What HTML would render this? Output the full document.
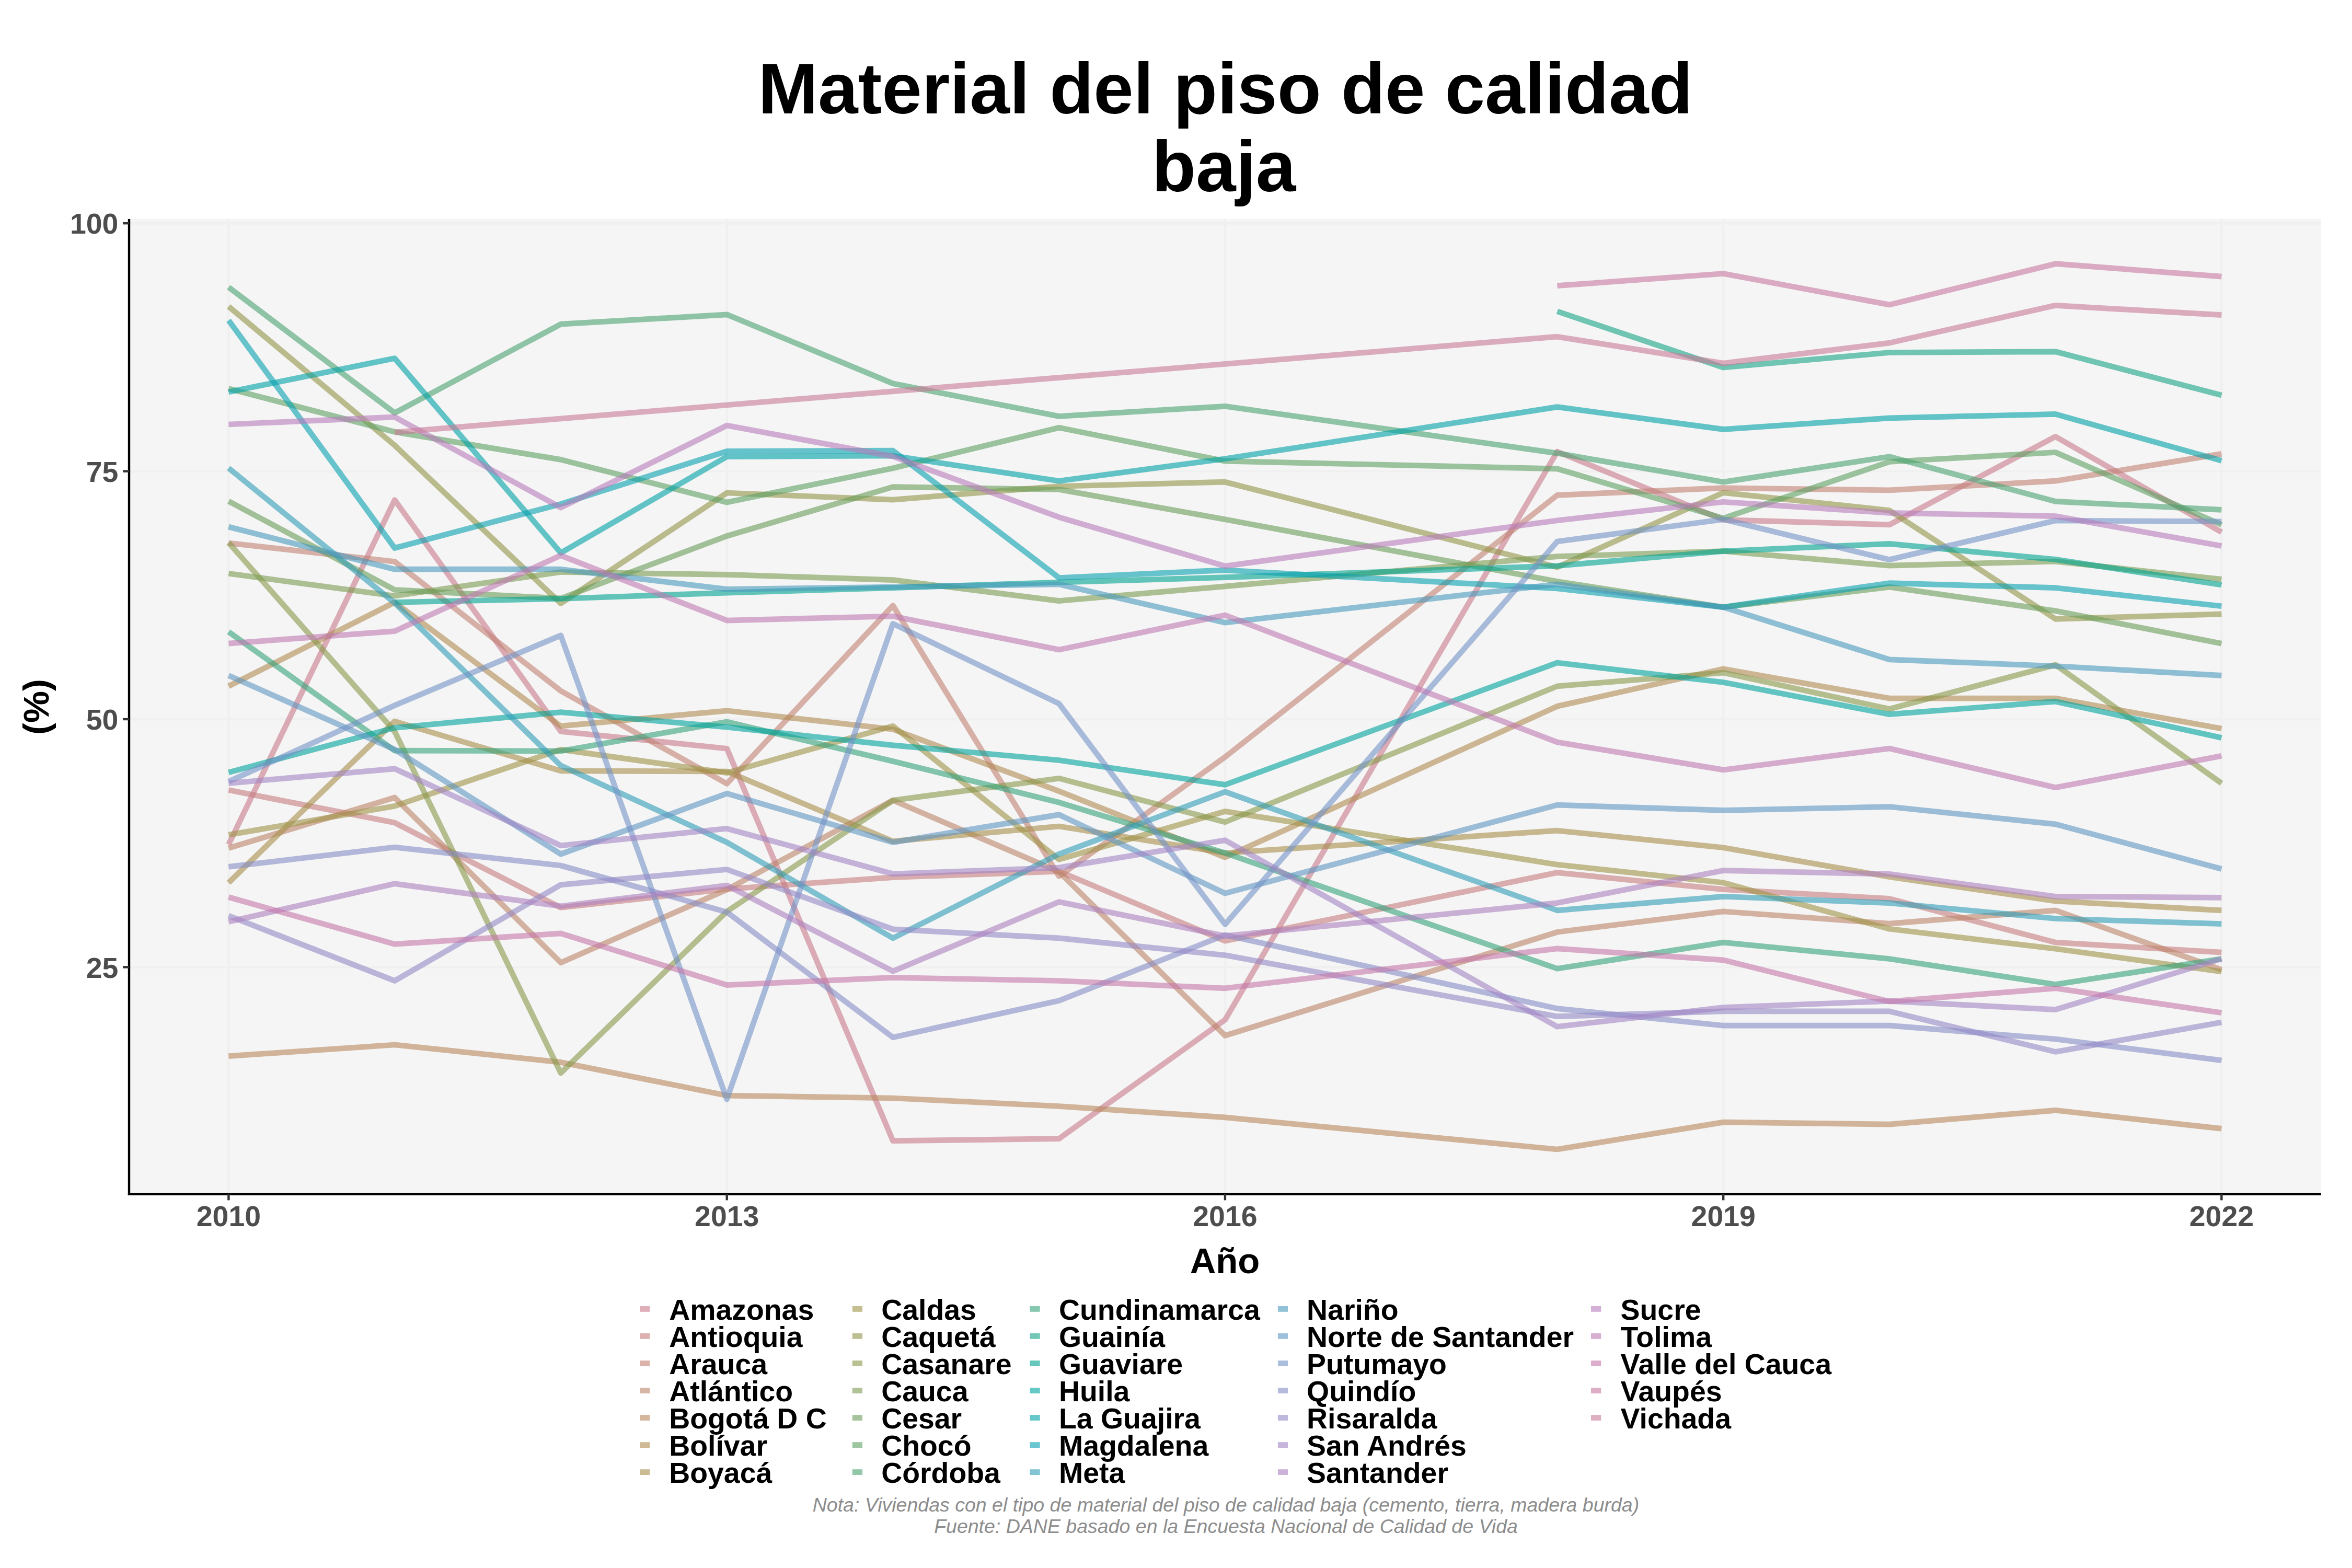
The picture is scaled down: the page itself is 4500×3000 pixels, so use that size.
<!DOCTYPE html><html><head><meta charset="utf-8"><title>Material del piso de calidad baja</title>
<style>html,body{margin:0;padding:0;background:#fff}svg{display:block}text{font-family:"Liberation Sans",sans-serif}</style></head><body>
<svg width="4500" height="3000" viewBox="0 0 4500 3000">
<rect width="4500" height="3000" fill="#fff"/>
<rect x="247" y="418.9" width="4193.8" height="1866.1" fill="#F5F5F5"/>
<line x1="247" x2="4440.8" y1="427.2" y2="427.2" stroke="#F0F0F0" stroke-width="4.6"/>
<line x1="247" x2="4440.8" y1="901.6" y2="901.6" stroke="#F0F0F0" stroke-width="4.6"/>
<line x1="247" x2="4440.8" y1="1376.0" y2="1376.0" stroke="#F0F0F0" stroke-width="4.6"/>
<line x1="247" x2="4440.8" y1="1850.4" y2="1850.4" stroke="#F0F0F0" stroke-width="4.6"/>
<line x1="437.4" x2="437.4" y1="418.9" y2="2285" stroke="#F0F0F0" stroke-width="4.6"/>
<line x1="1390.7" x2="1390.7" y1="418.9" y2="2285" stroke="#F0F0F0" stroke-width="4.6"/>
<line x1="2343.9" x2="2343.9" y1="418.9" y2="2285" stroke="#F0F0F0" stroke-width="4.6"/>
<line x1="3297.2" x2="3297.2" y1="418.9" y2="2285" stroke="#F0F0F0" stroke-width="4.6"/>
<line x1="4250.4" x2="4250.4" y1="418.9" y2="2285" stroke="#F0F0F0" stroke-width="4.6"/>
<g fill="none" stroke-width="10.7" stroke-opacity="0.6" stroke-linejoin="round" stroke-linecap="butt">
<polyline stroke="#C87A8A" points="437.4,1615.7 755.1,956.5 1072.9,1399.4 1390.7,1432.2 1708.4,2182.7 2026.2,2178.6 2343.9,1951.2 2979.4,864.1 3297.2,994.5 3614.9,1003.9 3932.7,835.3 4250.4,1018.2"/>
<polyline stroke="#C67D7F" points="437.4,1511.6 755.1,1574.1 1072.9,1736.5 1390.7,1701.0 1708.4,1678.6 2026.2,1667.1 2343.9,1800.2 2979.4,1669.6 3297.2,1701.6 3614.9,1719.4 3932.7,1803.1 4250.4,1822.2"/>
<polyline stroke="#C28073" points="437.4,1039.0 755.1,1074.5 1072.9,1321.8 1390.7,1499.4 1708.4,1158.6 2026.2,1676.5 2343.9,1448.4 2979.4,947.4 3297.2,933.7 3614.9,937.8 3932.7,920.2 4250.4,868.4"/>
<polyline stroke="#BD8367" points="437.4,1622.7 755.1,1525.9 1072.9,1841.8 1390.7,1702.0 1708.4,1531.2 2026.2,1668.0 2343.9,1981.4 2979.4,1783.3 3297.2,1743.9 3614.9,1767.1 3932.7,1741.8 4250.4,1855.3"/>
<polyline stroke="#B7875C" points="437.4,2020.6 755.1,1999.0 1072.9,2032.4 1390.7,2096.1 1708.4,2101.0 2026.2,2116.5 2343.9,2137.8 2979.4,2199.0 3297.2,2147.1 3614.9,2151.2 3932.7,2124.3 4250.4,2159.4"/>
<polyline stroke="#B08A52" points="437.4,1312.9 755.1,1152.4 1072.9,1389.2 1390.7,1359.8 1708.4,1395.3 2026.2,1513.7 2343.9,1640.2 2979.4,1351.3 3297.2,1279.8 3614.9,1336.1 3932.7,1336.1 4250.4,1394.1"/>
<polyline stroke="#A78E4B" points="437.4,1688.8 755.1,1380.2 1072.9,1474.9 1390.7,1476.0 1708.4,1609.6 2026.2,1581.0 2343.9,1632.0 2979.4,1589.2 3297.2,1621.8 3614.9,1677.8 3932.7,1723.9 4250.4,1741.8"/>
<polyline stroke="#9E9246" points="437.4,1597.3 755.1,1542.2 1072.9,1434.1 1390.7,1478.6 1708.4,1389.2 2026.2,1644.3 2343.9,1552.4 2979.4,1654.2 3297.2,1688.8 3614.9,1777.3 3932.7,1815.3 4250.4,1859.0"/>
<polyline stroke="#939546" points="437.4,586.3 755.1,852.0 1072.9,1154.5 1390.7,943.0 1708.4,956.1 2026.2,930.4 2343.9,922.2 2979.4,1085.1 3297.2,942.7 3614.9,976.5 3932.7,1184.3 4250.4,1174.9"/>
<polyline stroke="#879849" points="437.4,1038.2 755.1,1399.4 1072.9,2053.0 1390.7,1743.9 1708.4,1531.2 2026.2,1489.2 2343.9,1572.9 2979.4,1312.9 3297.2,1287.1 3614.9,1356.5 3932.7,1272.0 4250.4,1498.6"/>
<polyline stroke="#7A9B50" points="437.4,1097.3 755.1,1140.2 1072.9,1094.5 1390.7,1099.4 1708.4,1109.6 2026.2,1149.6 2343.9,1121.8 2979.4,1064.7 3297.2,1054.5 3614.9,1082.2 3932.7,1074.1 4250.4,1108.4"/>
<polyline stroke="#6B9D59" points="437.4,959.0 755.1,1128.5 1072.9,1144.9 1390.7,1025.5 1708.4,931.6 2026.2,936.5 2343.9,993.7 2979.4,1112.6 3297.2,1161.7 3614.9,1123.1 3932.7,1168.8 4250.4,1231.2"/>
<polyline stroke="#5BA063" points="437.4,743.5 755.1,826.3 1072.9,879.4 1390.7,961.0 1708.4,895.7 2026.2,818.2 2343.9,882.2 2979.4,896.9 3297.2,991.6 3614.9,883.5 3932.7,865.5 4250.4,1003.9"/>
<polyline stroke="#49A16F" points="437.4,549.6 755.1,790.0 1072.9,620.2 1390.7,601.8 1708.4,733.7 2026.2,796.5 2343.9,777.3 2979.4,867.1 3297.2,922.2 3614.9,873.7 3932.7,959.4 4250.4,975.3"/>
<polyline stroke="#34A27A" points="437.4,1208.8 755.1,1436.1 1072.9,1436.9 1390.7,1381.0 1708.4,1456.5 2026.2,1535.3 2343.9,1632.0 2979.4,1853.3 3297.2,1803.1 3614.9,1834.5 3932.7,1883.5 4250.4,1834.5"/>
<polyline stroke="#16A386" points="2979.4,595.7 3297.2,703.1 3614.9,674.5 3932.7,672.8 4250.4,756.1"/>
<polyline stroke="#00A391" points="755.1,1152.4 1072.9,1145.5 1390.7,1134.1 1708.4,1124.7 2026.2,1114.0 2343.9,1104.7 2979.4,1082.6 3297.2,1054.5 3614.9,1040.4 3932.7,1070.4 4250.4,1119.0"/>
<polyline stroke="#00A39C" points="437.4,1477.8 755.1,1392.4 1072.9,1362.7 1390.7,1391.2 1708.4,1425.9 2026.2,1454.5 2343.9,1501.4 2979.4,1268.0 3297.2,1305.5 3614.9,1366.7 3932.7,1342.2 4250.4,1411.6"/>
<polyline stroke="#00A1A6" points="437.4,750.0 755.1,685.5 1072.9,1057.8 1390.7,873.7 1708.4,872.0 2026.2,920.2 2343.9,877.7 2979.4,778.6 3297.2,821.4 3614.9,799.8 3932.7,792.4 4250.4,881.4"/>
<polyline stroke="#07A0AF" points="437.4,612.9 755.1,1048.5 1072.9,964.3 1390.7,863.3 1708.4,862.2 2026.2,1105.5 2343.9,1090.8 2979.4,1125.9 3297.2,1161.7 3614.9,1115.7 3932.7,1124.7 4250.4,1159.8"/>
<polyline stroke="#309DB7" points="437.4,895.7 755.1,1153.5 1072.9,1464.7 1390.7,1611.6 1708.4,1794.9 2026.2,1634.1 2343.9,1514.9 2979.4,1741.8 3297.2,1715.3 3614.9,1727.6 3932.7,1757.5 4250.4,1767.6"/>
<polyline stroke="#499ABD" points="437.4,1008.0 755.1,1089.2 1072.9,1089.2 1390.7,1127.4 1708.4,1123.0 2026.2,1117.8 2343.9,1191.2 2979.4,1117.8 3297.2,1161.7 3614.9,1261.8 3932.7,1274.5 4250.4,1292.4"/>
<polyline stroke="#5F96C2" points="437.4,1292.4 755.1,1434.0 1072.9,1634.1 1390.7,1518.2 1708.4,1611.6 2026.2,1558.6 2343.9,1709.2 2979.4,1540.2 3297.2,1550.4 3614.9,1543.5 3932.7,1576.9 4250.4,1662.5"/>
<polyline stroke="#7392C6" points="437.4,1495.3 755.1,1349.6 1072.9,1215.7 1390.7,2103.1 1708.4,1193.3 2026.2,1346.3 2343.9,1768.4 2979.4,1036.0 3297.2,993.7 3614.9,1070.8 3932.7,996.0 4250.4,997.8"/>
<polyline stroke="#858DC7" points="437.4,1658.4 755.1,1621.0 1072.9,1656.0 1390.7,1745.1 1708.4,1984.7 2026.2,1914.5 2343.9,1788.8 2979.4,1929.6 3297.2,1962.2 3614.9,1962.2 3932.7,1988.0 4250.4,2028.8"/>
<polyline stroke="#9588C7" points="437.4,1752.0 755.1,1876.5 1072.9,1692.9 1390.7,1663.5 1708.4,1777.8 2026.2,1794.9 2343.9,1827.6 2979.4,1944.7 3297.2,1934.9 3614.9,1934.9 3932.7,2012.4 4250.4,1956.1"/>
<polyline stroke="#A284C4" points="437.4,1498.6 755.1,1470.8 1072.9,1617.8 1390.7,1585.3 1708.4,1672.0 2026.2,1660.0 2343.9,1607.6 2979.4,1964.3 3297.2,1927.6 3614.9,1915.3 3932.7,1931.6 4250.4,1834.5"/>
<polyline stroke="#AE80C0" points="437.4,1763.5 755.1,1690.8 1072.9,1733.7 1390.7,1694.1 1708.4,1858.2 2026.2,1725.5 2343.9,1790.8 2979.4,1727.6 3297.2,1665.5 3614.9,1672.4 3932.7,1715.3 4250.4,1717.3"/>
<polyline stroke="#B77CBA" points="437.4,812.0 755.1,797.8 1072.9,971.2 1390.7,814.1 1708.4,873.3 2026.2,989.6 2343.9,1083.1 2979.4,995.7 3297.2,960.2 3614.9,981.4 3932.7,987.6 4250.4,1044.5"/>
<polyline stroke="#BF7AB3" points="437.4,1231.2 755.1,1207.6 1072.9,1062.7 1390.7,1187.1 1708.4,1179.0 2026.2,1243.1 2343.9,1176.9 2979.4,1420.0 3297.2,1472.9 3614.9,1432.0 3932.7,1506.7 4250.4,1446.3"/>
<polyline stroke="#C478AA" points="437.4,1716.5 755.1,1806.3 1072.9,1785.9 1390.7,1884.7 1708.4,1870.4 2026.2,1876.5 2343.9,1890.8 2979.4,1814.9 3297.2,1836.9 3614.9,1916.1 3932.7,1890.8 4250.4,1937.8"/>
<polyline stroke="#C778A0" points="2979.4,546.7 3297.2,523.5 3614.9,583.1 3932.7,504.7 4250.4,529.2"/>
<polyline stroke="#C87996" points="755.1,827.1 2979.4,644.2 3297.2,695.1 3614.9,656.1 3932.7,584.3 4250.4,602.7"/>
</g>
<line x1="247" x2="247" y1="418.9" y2="2287.1" stroke="#000" stroke-width="4.4"/>
<line x1="244.8" x2="4440.8" y1="2284.9" y2="2284.9" stroke="#000" stroke-width="4.4"/>
<line x1="235.1" x2="247" y1="427.2" y2="427.2" stroke="#333333" stroke-width="4.4"/>
<text x="226.3" y="447.4" text-anchor="end" font-size="55.4" font-weight="bold" fill="#4D4D4D">100</text>
<line x1="235.1" x2="247" y1="901.6" y2="901.6" stroke="#333333" stroke-width="4.4"/>
<text x="226.3" y="921.8" text-anchor="end" font-size="55.4" font-weight="bold" fill="#4D4D4D">75</text>
<line x1="235.1" x2="247" y1="1376.0" y2="1376.0" stroke="#333333" stroke-width="4.4"/>
<text x="226.3" y="1396.2" text-anchor="end" font-size="55.4" font-weight="bold" fill="#4D4D4D">50</text>
<line x1="235.1" x2="247" y1="1850.4" y2="1850.4" stroke="#333333" stroke-width="4.4"/>
<text x="226.3" y="1870.6" text-anchor="end" font-size="55.4" font-weight="bold" fill="#4D4D4D">25</text>
<line x1="437.4" x2="437.4" y1="2284.9" y2="2296.4" stroke="#333333" stroke-width="4.4"/>
<text x="437.4" y="2346.4" text-anchor="middle" font-size="55.4" font-weight="bold" fill="#4D4D4D">2010</text>
<line x1="1390.7" x2="1390.7" y1="2284.9" y2="2296.4" stroke="#333333" stroke-width="4.4"/>
<text x="1390.7" y="2346.4" text-anchor="middle" font-size="55.4" font-weight="bold" fill="#4D4D4D">2013</text>
<line x1="2343.9" x2="2343.9" y1="2284.9" y2="2296.4" stroke="#333333" stroke-width="4.4"/>
<text x="2343.9" y="2346.4" text-anchor="middle" font-size="55.4" font-weight="bold" fill="#4D4D4D">2016</text>
<line x1="3297.2" x2="3297.2" y1="2284.9" y2="2296.4" stroke="#333333" stroke-width="4.4"/>
<text x="3297.2" y="2346.4" text-anchor="middle" font-size="55.4" font-weight="bold" fill="#4D4D4D">2019</text>
<line x1="4250.4" x2="4250.4" y1="2284.9" y2="2296.4" stroke="#333333" stroke-width="4.4"/>
<text x="4250.4" y="2346.4" text-anchor="middle" font-size="55.4" font-weight="bold" fill="#4D4D4D">2022</text>
<text x="2344.4" y="216.8" text-anchor="middle" font-size="137.5" font-weight="bold" fill="#000">Material del piso de calidad</text>
<text x="2341.6" y="366" text-anchor="middle" font-size="137.5" font-weight="bold" fill="#000">baja</text>
<text x="2343.5" y="2435.9" text-anchor="middle" font-size="68.75" font-weight="bold" fill="#000">Año</text>
<text transform="translate(92.5,1352.5) rotate(-90)" text-anchor="middle" font-size="68.75" font-weight="bold" fill="#000">(%)</text>
<rect x="1224" y="2499.0" width="19.2" height="10.8" fill="#C87A8A" fill-opacity="0.6"/>
<text x="1280.2" y="2525.0" font-size="55.4" font-weight="bold" fill="#000">Amazonas</text>
<rect x="1224" y="2551.0" width="19.2" height="10.8" fill="#C67D7F" fill-opacity="0.6"/>
<text x="1280.2" y="2577.0" font-size="55.4" font-weight="bold" fill="#000">Antioquia</text>
<rect x="1224" y="2603.1" width="19.2" height="10.8" fill="#C28073" fill-opacity="0.6"/>
<text x="1280.2" y="2629.1" font-size="55.4" font-weight="bold" fill="#000">Arauca</text>
<rect x="1224" y="2655.1" width="19.2" height="10.8" fill="#BD8367" fill-opacity="0.6"/>
<text x="1280.2" y="2681.1" font-size="55.4" font-weight="bold" fill="#000">Atlántico</text>
<rect x="1224" y="2707.1" width="19.2" height="10.8" fill="#B7875C" fill-opacity="0.6"/>
<text x="1280.2" y="2733.1" font-size="55.4" font-weight="bold" fill="#000">Bogotá D C</text>
<rect x="1224" y="2759.2" width="19.2" height="10.8" fill="#B08A52" fill-opacity="0.6"/>
<text x="1280.2" y="2785.2" font-size="55.4" font-weight="bold" fill="#000">Bolívar</text>
<rect x="1224" y="2811.2" width="19.2" height="10.8" fill="#A78E4B" fill-opacity="0.6"/>
<text x="1280.2" y="2837.2" font-size="55.4" font-weight="bold" fill="#000">Boyacá</text>
<rect x="1630.8" y="2499.0" width="19.2" height="10.8" fill="#9E9246" fill-opacity="0.6"/>
<text x="1686.2" y="2525.0" font-size="55.4" font-weight="bold" fill="#000">Caldas</text>
<rect x="1630.8" y="2551.0" width="19.2" height="10.8" fill="#939546" fill-opacity="0.6"/>
<text x="1686.2" y="2577.0" font-size="55.4" font-weight="bold" fill="#000">Caquetá</text>
<rect x="1630.8" y="2603.1" width="19.2" height="10.8" fill="#879849" fill-opacity="0.6"/>
<text x="1686.2" y="2629.1" font-size="55.4" font-weight="bold" fill="#000">Casanare</text>
<rect x="1630.8" y="2655.1" width="19.2" height="10.8" fill="#7A9B50" fill-opacity="0.6"/>
<text x="1686.2" y="2681.1" font-size="55.4" font-weight="bold" fill="#000">Cauca</text>
<rect x="1630.8" y="2707.1" width="19.2" height="10.8" fill="#6B9D59" fill-opacity="0.6"/>
<text x="1686.2" y="2733.1" font-size="55.4" font-weight="bold" fill="#000">Cesar</text>
<rect x="1630.8" y="2759.2" width="19.2" height="10.8" fill="#5BA063" fill-opacity="0.6"/>
<text x="1686.2" y="2785.2" font-size="55.4" font-weight="bold" fill="#000">Chocó</text>
<rect x="1630.8" y="2811.2" width="19.2" height="10.8" fill="#49A16F" fill-opacity="0.6"/>
<text x="1686.2" y="2837.2" font-size="55.4" font-weight="bold" fill="#000">Córdoba</text>
<rect x="1970.5" y="2499.0" width="19.2" height="10.8" fill="#34A27A" fill-opacity="0.6"/>
<text x="2026.0" y="2525.0" font-size="55.4" font-weight="bold" fill="#000">Cundinamarca</text>
<rect x="1970.5" y="2551.0" width="19.2" height="10.8" fill="#16A386" fill-opacity="0.6"/>
<text x="2026.0" y="2577.0" font-size="55.4" font-weight="bold" fill="#000">Guainía</text>
<rect x="1970.5" y="2603.1" width="19.2" height="10.8" fill="#00A391" fill-opacity="0.6"/>
<text x="2026.0" y="2629.1" font-size="55.4" font-weight="bold" fill="#000">Guaviare</text>
<rect x="1970.5" y="2655.1" width="19.2" height="10.8" fill="#00A39C" fill-opacity="0.6"/>
<text x="2026.0" y="2681.1" font-size="55.4" font-weight="bold" fill="#000">Huila</text>
<rect x="1970.5" y="2707.1" width="19.2" height="10.8" fill="#00A1A6" fill-opacity="0.6"/>
<text x="2026.0" y="2733.1" font-size="55.4" font-weight="bold" fill="#000">La Guajira</text>
<rect x="1970.5" y="2759.2" width="19.2" height="10.8" fill="#07A0AF" fill-opacity="0.6"/>
<text x="2026.0" y="2785.2" font-size="55.4" font-weight="bold" fill="#000">Magdalena</text>
<rect x="1970.5" y="2811.2" width="19.2" height="10.8" fill="#309DB7" fill-opacity="0.6"/>
<text x="2026.0" y="2837.2" font-size="55.4" font-weight="bold" fill="#000">Meta</text>
<rect x="2444.9" y="2499.0" width="19.2" height="10.8" fill="#499ABD" fill-opacity="0.6"/>
<text x="2500.1" y="2525.0" font-size="55.4" font-weight="bold" fill="#000">Nariño</text>
<rect x="2444.9" y="2551.0" width="19.2" height="10.8" fill="#5F96C2" fill-opacity="0.6"/>
<text x="2500.1" y="2577.0" font-size="55.4" font-weight="bold" fill="#000">Norte de Santander</text>
<rect x="2444.9" y="2603.1" width="19.2" height="10.8" fill="#7392C6" fill-opacity="0.6"/>
<text x="2500.1" y="2629.1" font-size="55.4" font-weight="bold" fill="#000">Putumayo</text>
<rect x="2444.9" y="2655.1" width="19.2" height="10.8" fill="#858DC7" fill-opacity="0.6"/>
<text x="2500.1" y="2681.1" font-size="55.4" font-weight="bold" fill="#000">Quindío</text>
<rect x="2444.9" y="2707.1" width="19.2" height="10.8" fill="#9588C7" fill-opacity="0.6"/>
<text x="2500.1" y="2733.1" font-size="55.4" font-weight="bold" fill="#000">Risaralda</text>
<rect x="2444.9" y="2759.2" width="19.2" height="10.8" fill="#A284C4" fill-opacity="0.6"/>
<text x="2500.1" y="2785.2" font-size="55.4" font-weight="bold" fill="#000">San Andrés</text>
<rect x="2444.9" y="2811.2" width="19.2" height="10.8" fill="#AE80C0" fill-opacity="0.6"/>
<text x="2500.1" y="2837.2" font-size="55.4" font-weight="bold" fill="#000">Santander</text>
<rect x="3044" y="2499.0" width="19.2" height="10.8" fill="#B77CBA" fill-opacity="0.6"/>
<text x="3100.6" y="2525.0" font-size="55.4" font-weight="bold" fill="#000">Sucre</text>
<rect x="3044" y="2551.0" width="19.2" height="10.8" fill="#BF7AB3" fill-opacity="0.6"/>
<text x="3100.6" y="2577.0" font-size="55.4" font-weight="bold" fill="#000">Tolima</text>
<rect x="3044" y="2603.1" width="19.2" height="10.8" fill="#C478AA" fill-opacity="0.6"/>
<text x="3100.6" y="2629.1" font-size="55.4" font-weight="bold" fill="#000">Valle del Cauca</text>
<rect x="3044" y="2655.1" width="19.2" height="10.8" fill="#C778A0" fill-opacity="0.6"/>
<text x="3100.6" y="2681.1" font-size="55.4" font-weight="bold" fill="#000">Vaupés</text>
<rect x="3044" y="2707.1" width="19.2" height="10.8" fill="#C87996" fill-opacity="0.6"/>
<text x="3100.6" y="2733.1" font-size="55.4" font-weight="bold" fill="#000">Vichada</text>
<text x="2345.5" y="2892" text-anchor="middle" font-size="37.5" font-style="italic" fill="#8C8C8C">Nota: Viviendas con el tipo de material del piso de calidad baja (cemento, tierra, madera burda)</text>
<text x="2345.5" y="2932.5" text-anchor="middle" font-size="37.5" font-style="italic" fill="#8C8C8C">Fuente: DANE basado en la Encuesta Nacional de Calidad de Vida</text>
</svg></body></html>
